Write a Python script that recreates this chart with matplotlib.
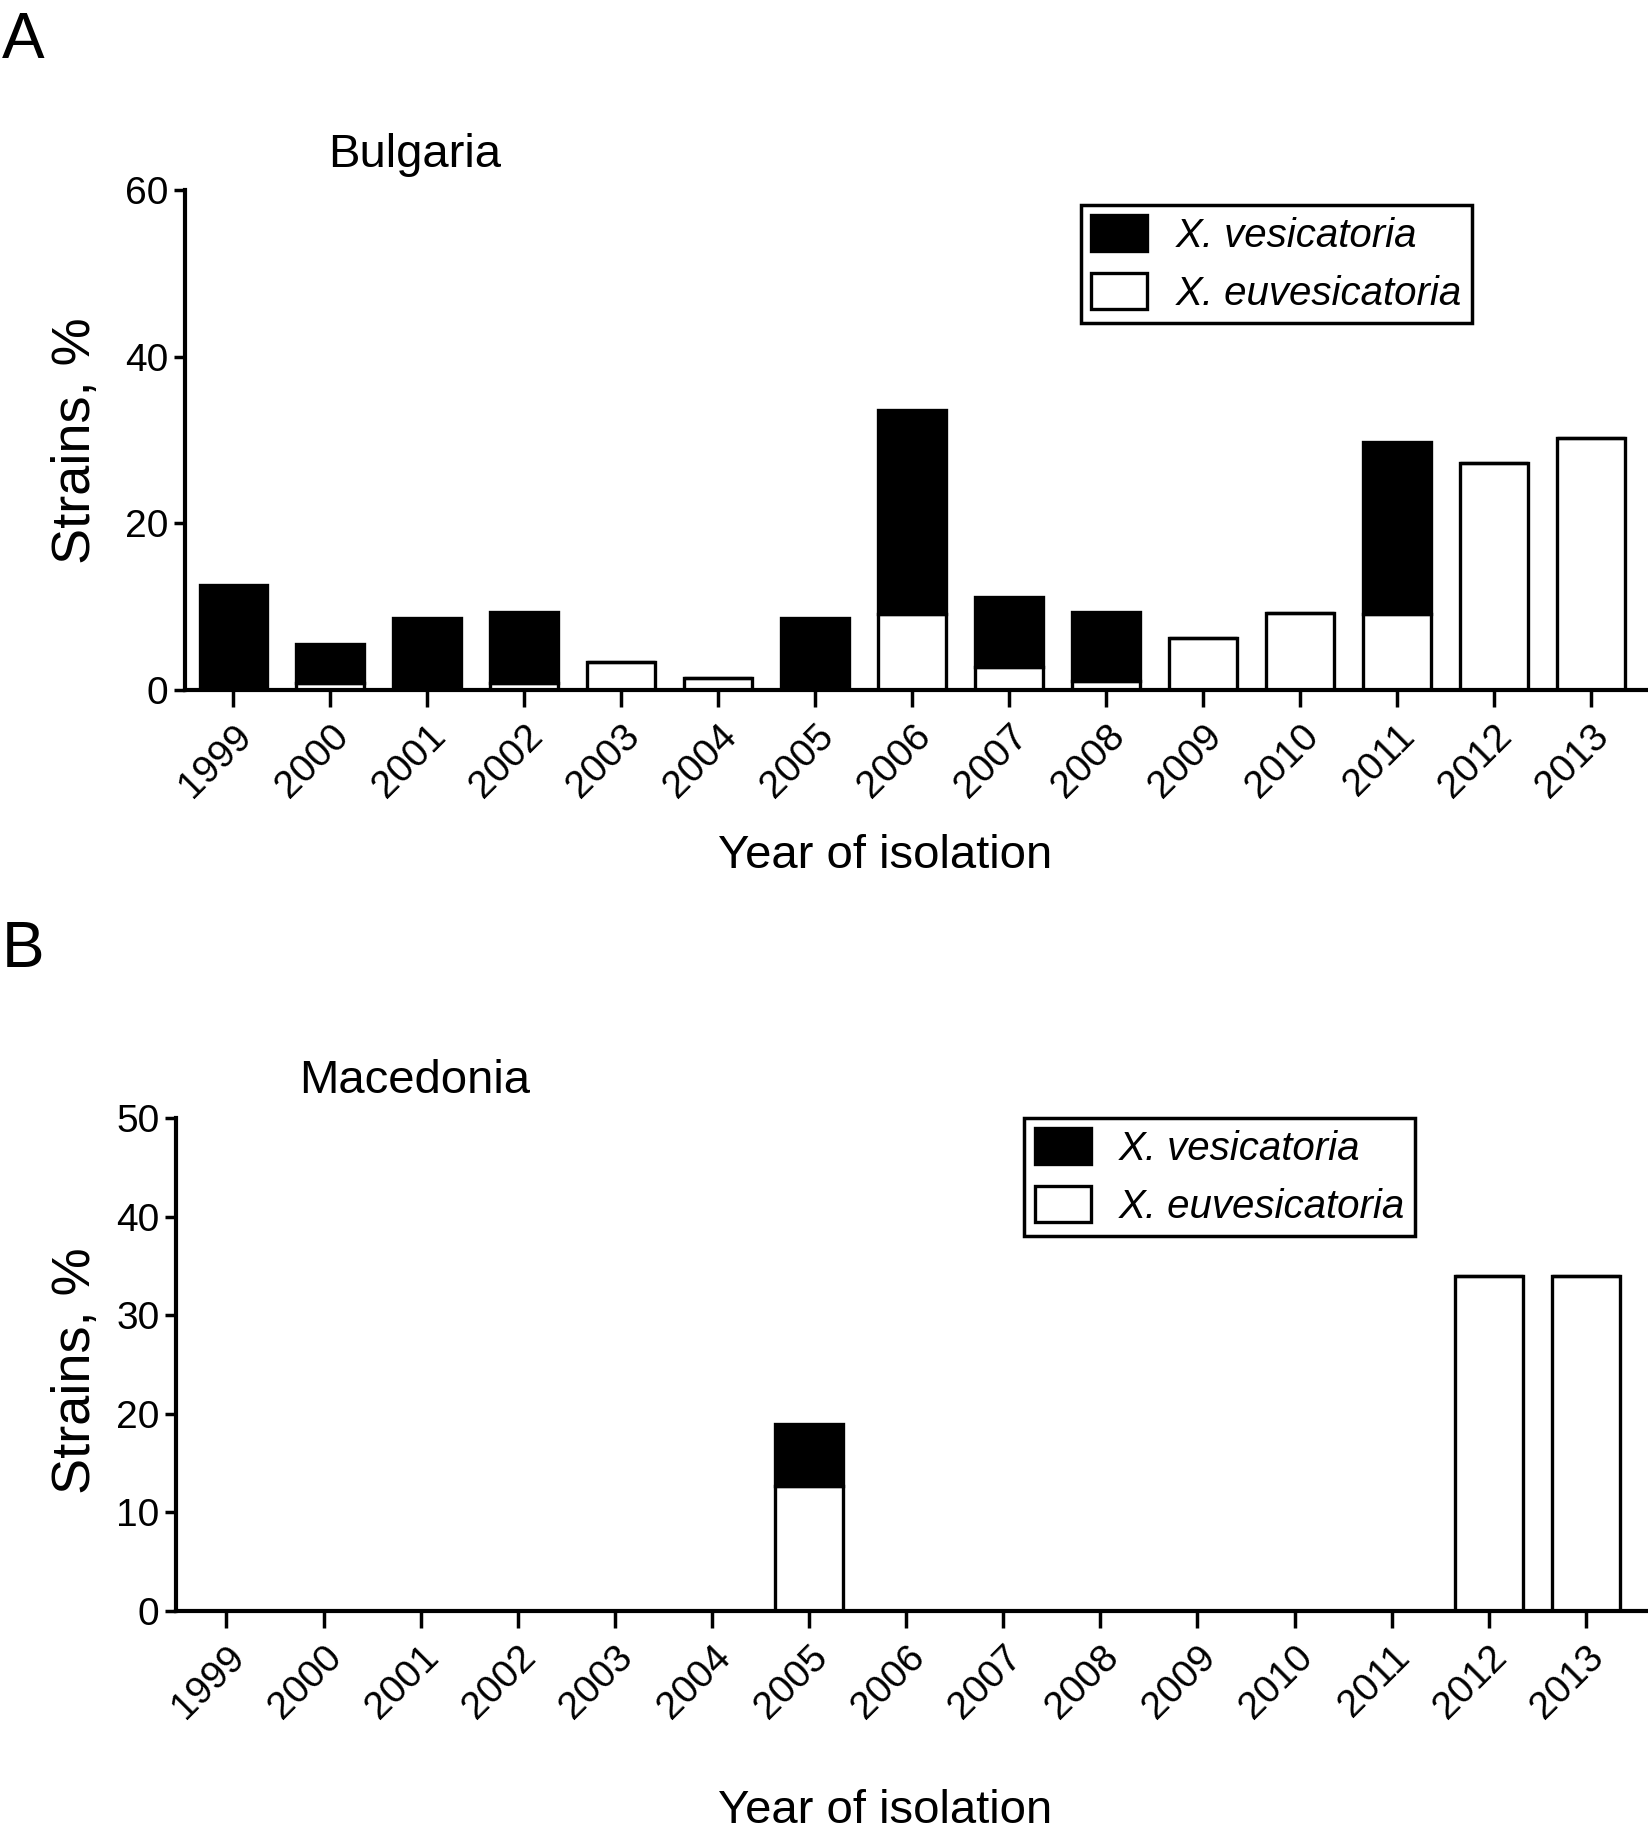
import matplotlib
matplotlib.use("Agg")
import matplotlib.pyplot as plt
import numpy as np

plt.rcParams['font.family'] = ['Liberation Sans', 'DejaVu Sans']

# data (percent of strains)
years = ['1999', '2000', '2001', '2002', '2003', '2004', '2005', '2006',
         '2007', '2008', '2009', '2010', '2011', '2012', '2013']
bg_euves = [0, 0.8, 0, 0.8, 3.4, 1.5, 0, 9.1, 2.8, 1.1, 6.3, 9.3, 9.1, 27.2, 30.3]
bg_ves = [12.6, 4.7, 8.6, 8.6, 0, 0, 8.7, 24.5, 8.4, 8.3, 0, 0, 20.7, 0, 0]
mk_euves = [0, 0, 0, 0, 0, 0, 12.7, 0, 0, 0, 0, 0, 0, 34.0, 34.0]
mk_ves = [0, 0, 0, 0, 0, 0, 6.3, 0, 0, 0, 0, 0, 0, 0, 0]

W, H = 1649, 1838
fig = plt.figure(figsize=(W / 100, H / 100), dpi=100)


def fx(px):
    return px / W


def fy(py):
    return 1 - py / H


def panel(rect, euves, ves, ymax, yticks, xlim, title, title_xy, leg_anchor):
    ax = fig.add_axes(rect)
    x = np.arange(len(years))
    ax.bar(x, euves, width=0.7, color='white', edgecolor='black', linewidth=2.4,
           label='X. euvesicatoria', zorder=2)
    ax.bar(x, ves, width=0.7, bottom=euves, color='black', edgecolor='black',
           linewidth=2.4, label='X. vesicatoria', zorder=2)
    ax.set_xlim(*xlim)
    ax.set_ylim(0, ymax)
    ax.set_yticks(yticks)
    ax.set_xticks(x)
    ax.set_xticklabels(years, rotation=45, ha='right', va='top',
                       rotation_mode='anchor', fontsize=28)
    ax.tick_params(axis='y', labelsize=28, width=2.5, length=8, pad=4)
    ax.tick_params(axis='x', width=2.5, length=12, pad=8)
    for s in ['top', 'right']:
        ax.spines[s].set_visible(False)
    for s in ['left', 'bottom']:
        ax.spines[s].set_linewidth(3)
    handles, labels = ax.get_legend_handles_labels()
    leg = ax.legend(handles[::-1], labels[::-1], loc='upper left',
                    bbox_to_anchor=leg_anchor, fancybox=False, framealpha=1,
                    edgecolor='black', prop={'size': 29, 'style': 'italic'},
                    handlelength=1.4, handleheight=1.0, handletextpad=0.7,
                    labelspacing=0.45, borderpad=0.25, borderaxespad=0)
    leg.get_frame().set_linewidth(2.5)
    fig.text(fx(title_xy[0]), fy(title_xy[1]), title, fontsize=34,
             ha='center', va='center')
    return ax


axA = panel([fx(185), fy(690), fx(1649 - 185), (690 - 190) / H],
            bg_euves, bg_ves, 60, [0, 20, 40, 60], (-0.5, 14.6),
            'Bulgaria', (415, 155), (0.612, 0.97))
axB = panel([fx(176), fy(1611), fx(1649 - 176), (1611 - 1118) / H],
            mk_euves, mk_ves, 50, [0, 10, 20, 30, 40, 50], (-0.52, 14.65),
            'Macedonia', (415, 1081), (0.576, 1.0))

for yy in [441, 1371]:
    fig.text(fx(76), fy(yy), 'Strains, %', fontsize=39, rotation=90,
             ha='center', va='center')
for yy in [856, 1811]:
    fig.text(fx(885), fy(yy), 'Year of isolation', fontsize=34,
             ha='center', va='center')
fig.text(fx(23), fy(41), 'A', fontsize=46, ha='center', va='center')
fig.text(fx(23), fy(950), 'B', fontsize=46, ha='center', va='center')

fig.savefig('out.png', dpi=100)
